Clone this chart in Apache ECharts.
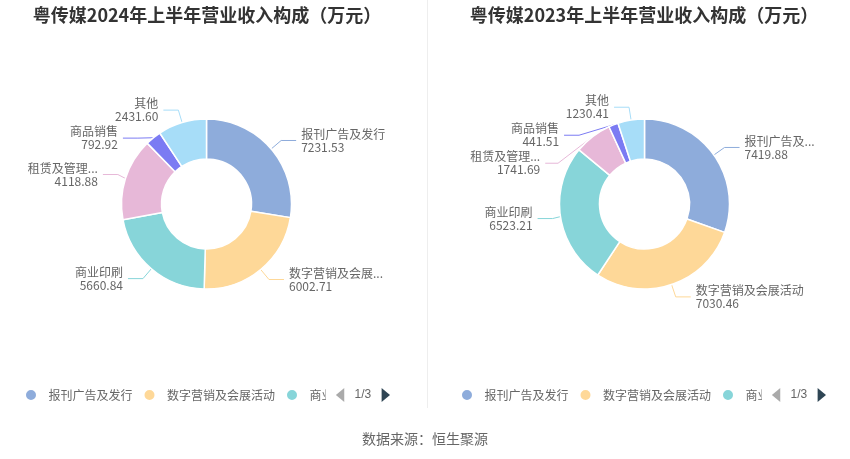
<!DOCTYPE html>
<html>
<head>
<meta charset="utf-8">
<script src="https://cdn.jsdelivr.net/npm/echarts@6/dist/echarts.min.js"></script>
<style>html,body{margin:0;padding:0;background:#fff}#c{width:850px;height:459px}</style>
</head>
<body>
<div id="c"></div>
<script>
var categories = ['报刊广告及发行', '数字营销及会展活动', '商业印刷', '租赁及管理服务', '商品销售', '其他'];
var values2024 = [7231.53, 6002.71, 5660.84, 4118.88, 792.92, 2431.60];
var values2023 = [7419.88, 7030.46, 6523.21, 1741.69, 441.51, 1230.41];
var titles = ['粤传媒2024年上半年营业收入构成（万元）', '粤传媒2023年上半年营业收入构成（万元）'];
var sourceText = '数据来源：恒生聚源';
var colors = ['#8eacdb', '#fed898', '#87d5d9', '#e7b8d8', '#7b7bf3', '#a7ddf8'];

function mk(vals) {
  return categories.map(function (c, i) { return { name: c, value: vals[i] }; });
}
var font = '"Microsoft YaHei","Noto Sans CJK SC",sans-serif';
function pie(vals, left) {
  return {
    type: 'pie',
    left: left, width: 383, top: 0, height: 459,
    center: ['50%', 204],
    radius: [45, 85],
    startAngle: 90,
    clockwise: true,
    avoidLabelOverlap: true,
    itemStyle: { borderColor: '#fff', borderWidth: 1.5 },
    label: {
      formatter: function (p) { return p.name + '\n' + p.value.toFixed(2); },
      color: '#666',
      fontSize: 12,
      lineHeight: 13,
      fontFamily: font,
      overflow: 'truncate'
    },
    labelLine: { length: 13, length2: 15, lineStyle: { width: 1 } },
    data: mk(vals)
  };
}
function legend(left) {
  return {
    type: 'scroll',
    left: left, width: 366, top: 383,
    icon: 'circle', itemWidth: 25, itemHeight: 12, itemGap: 10,
    textStyle: { color: '#666', fontSize: 12, fontFamily: font },
    pageIconSize: 14,
    pageIconColor: '#2f4554',
    pageIconInactiveColor: '#aaa',
    pageTextStyle: { color: '#666', fontSize: 12 },
    data: categories
  };
}
var chart = echarts.init(document.getElementById('c'));
chart.setOption({
  color: colors,
  animation: false,
  title: [
    { text: titles[0], left: 202, top: 1, textAlign: 'center', textStyle: { fontSize: 18, fontWeight: 'bold', color: '#333', fontFamily: font } },
    { text: titles[1], left: 639, top: 1, textAlign: 'center', textStyle: { fontSize: 18, fontWeight: 'bold', color: '#333', fontFamily: font } },
    { text: sourceText, left: 420, top: 427, textAlign: 'center', textStyle: { fontSize: 14, fontWeight: 'normal', color: '#666', fontFamily: font } }
  ],
  legend: [legend(19), legend(455)],
  graphic: [{ type: 'line', shape: { x1: 427.5, y1: 0, x2: 427.5, y2: 408 }, style: { stroke: '#eeeeee', lineWidth: 1 } }],
  series: [pie(values2024, 15), pie(values2023, 453)]
});
</script>
</body>
</html>
